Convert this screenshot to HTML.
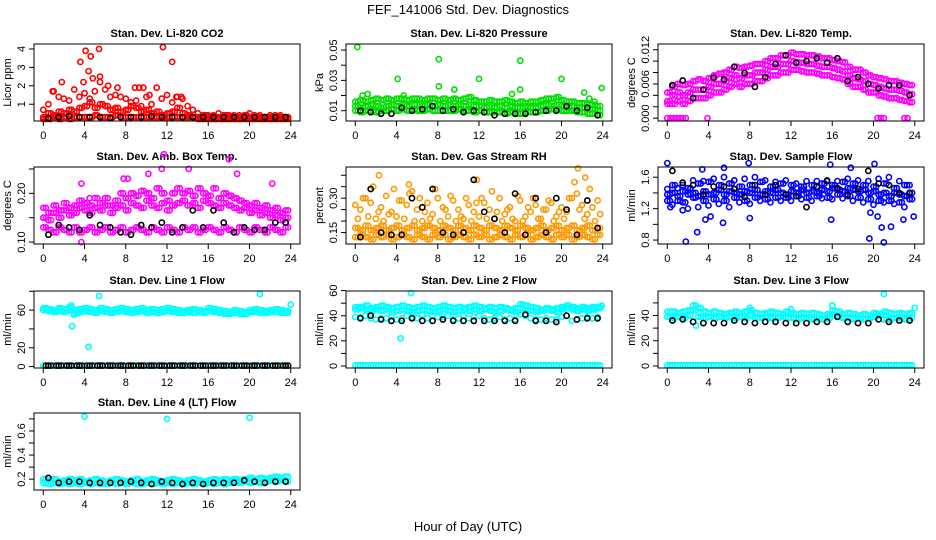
<!DOCTYPE html>
<html><head><meta charset="utf-8"><style>
html,body{margin:0;padding:0;background:#fff;}
svg{display:block;font-family:"Liberation Sans",sans-serif;}
</style></head><body>
<svg id="chart" width="936" height="540" viewBox="0 0 936 540">
<rect x="0" y="0" width="936" height="540" fill="#fff"/>
<text x="468" y="14" font-size="13" text-anchor="middle">FEF_141006  Std. Dev. Diagnostics</text>
<text x="468" y="531" font-size="13" text-anchor="middle">Hour of Day (UTC)</text>
</svg>
<script>
const T48=[0,0.5,1,1.5,2,2.5,3,3.5,4,4.5,5,5.5,6,6.5,7,7.5,8,8.5,9,9.5,10,10.5,11,11.5,12,12.5,13,13.5,14,14.5,15,15.5,16,16.5,17,17.5,18,18.5,19,19.5,20,20.5,21,21.5,22,22.5,23,23.5];
const T48b=[0.25,0.75,1.25,1.75,2.25,2.75,3.25,3.75,4.25,4.75,5.25,5.75,6.25,6.75,7.25,7.75,8.25,8.75,9.25,9.75,10.25,10.75,11.25,11.75,12.25,12.75,13.25,13.75,14.25,14.75,15.25,15.75,16.25,16.75,17.25,17.75,18.25,18.75,19.25,19.75,20.25,20.75,21.25,21.75,22.25,22.75,23.25,23.75];
const T24=[0.5,1.5,2.5,3.5,4.5,5.5,6.5,7.5,8.5,9.5,10.5,11.5,12.5,13.5,14.5,15.5,16.5,17.5,18.5,19.5,20.5,21.5,22.5,23.5];
const xTicks=[0,4,8,12,16,20,24];
// CO2
const co2A=[0.3,0.5,0.4,0.6,0.5,0.7,0.6,0.8,0.9,1.1,0.8,1.0,0.9,0.7,0.8,0.6,0.7,0.9,0.8,0.6,0.7,0.5,0.6,0.4,0.5,0.6,0.8,0.5,0.4,0.3,0.3,0.4,0.3,0.3,0.3,0.4,0.3,0.3,0.3,0.4,0.3,0.3,0.3,0.3,0.3,0.3,0.3,0.3];
const co2B=[0.7,1.0,1.7,1.4,1.3,1.2,1.8,1.4,1.6,1.3,1.7,2.2,1.8,1.4,1.5,1.4,1.3,1.1,1.2,0.9,1.4,1.0,1.9,1.3,1.5,1.1,1.4,1.3,0.9,0.7,0.5,0.4,0.4,0.4,0.5,0.4,0.4,0.4,0.4,0.4,0.5,0.4,0.4,0.3,0.4,0.4,0.4,0.3];
const co2C=[0.2,0.2,0.3,0.2,0.3,0.2,0.3,0.3,0.3,0.3,0.4,0.3,0.3,0.3,0.4,0.3,0.3,0.3,0.3,0.3,0.3,0.3,0.3,0.3,0.3,0.3,0.3,0.3,0.3,0.3,0.2,0.2,0.2,0.2,0.2,0.2,0.2,0.2,0.2,0.2,0.2,0.2,0.2,0.2,0.2,0.2,0.2,0.2];
const co2OX=[3.6,3.9,4.1,4.4,4.6,4.8,5.4,5.5,6.3,7.2,1.8,0.9,11.6,12.5,8.9,9.3,9.7,10.3,13.4,12.9];
const co2OY=[3.3,2.2,3.9,2.8,3.6,2.4,4.0,2.5,2.0,1.9,2.2,1.7,4.1,3.3,1.9,1.9,1.9,1.5,1.4,1.4];
const co2K=[0.25,0.3,0.35,0.3,0.3,0.3,0.25,0.3,0.3,0.3,0.35,0.3,0.3,0.3,0.3,0.3,0.3,0.3,0.3,0.3,0.3,0.3,0.3,0.3];
// Pressure
const prA=[0.013,0.012,0.013,0.014,0.013,0.012,0.013,0.014,0.013,0.014,0.013,0.014,0.014,0.013,0.014,0.013,0.014,0.013,0.014,0.013,0.014,0.013,0.014,0.013,0.013,0.012,0.013,0.012,0.013,0.012,0.013,0.012,0.012,0.013,0.012,0.012,0.013,0.014,0.013,0.014,0.013,0.012,0.013,0.012,0.012,0.011,0.011,0.010];
const prB=[0.016,0.017,0.016,0.017,0.018,0.017,0.018,0.017,0.018,0.018,0.017,0.018,0.018,0.017,0.018,0.018,0.017,0.018,0.017,0.018,0.017,0.018,0.019,0.017,0.016,0.016,0.017,0.016,0.016,0.017,0.016,0.015,0.016,0.015,0.016,0.016,0.017,0.018,0.018,0.019,0.017,0.016,0.016,0.015,0.015,0.014,0.014,0.013];
const prC=[0.010,0.009,0.010,0.010,0.009,0.010,0.010,0.011,0.010,0.011,0.010,0.011,0.010,0.010,0.011,0.010,0.010,0.010,0.010,0.010,0.011,0.010,0.010,0.009,0.010,0.009,0.009,0.009,0.009,0.008,0.009,0.008,0.008,0.009,0.009,0.009,0.010,0.010,0.011,0.011,0.010,0.010,0.010,0.009,0.009,0.008,0.008,0.007];
const prOX=[0.2,0.7,1.2,4.1,8.1,8.1,9.6,12,16,15.2,16,20,22.2,22.7,23.2,23.9,4.7];
const prOY=[0.052,0.020,0.021,0.031,0.044,0.026,0.024,0.031,0.043,0.021,0.024,0.031,0.022,0.018,0.016,0.025,0.020];
const prK=[0.010,0.009,0.008,0.008,0.012,0.010,0.011,0.013,0.010,0.011,0.009,0.010,0.009,0.007,0.008,0.008,0.008,0.009,0.010,0.010,0.013,0.010,0.012,0.007];
// Li-820 temp
const ltA=[0.003,0.004,0.0045,0.004,0.0045,0.005,0.005,0.005,0.0055,0.006,0.006,0.0065,0.007,0.0075,0.007,0.0075,0.0075,0.008,0.008,0.0085,0.009,0.009,0.0095,0.0095,0.01,0.0098,0.0097,0.0095,0.0095,0.0092,0.009,0.009,0.0088,0.0085,0.0082,0.0075,0.007,0.0068,0.0065,0.006,0.0058,0.0055,0.0052,0.005,0.005,0.0048,0.0045,0.0042];
const ltB=[0.0045,0.0055,0.006,0.0058,0.006,0.0065,0.0068,0.0065,0.007,0.0075,0.0078,0.008,0.0085,0.009,0.0088,0.009,0.0092,0.0095,0.0095,0.01,0.0105,0.0105,0.011,0.011,0.0115,0.0112,0.0112,0.011,0.011,0.0108,0.0105,0.0105,0.0102,0.01,0.0098,0.009,0.0085,0.0085,0.008,0.0075,0.0072,0.007,0.0068,0.0065,0.0065,0.0062,0.006,0.0058];
const ltC=[0.0025,0.0025,0.003,0.0025,0.003,0.0035,0.0035,0.0035,0.004,0.0045,0.0045,0.005,0.0055,0.006,0.0055,0.006,0.006,0.0065,0.0065,0.007,0.0075,0.0075,0.008,0.008,0.0085,0.0085,0.0082,0.008,0.008,0.0078,0.0075,0.0075,0.0072,0.007,0.0068,0.006,0.0055,0.0055,0.005,0.0045,0.0045,0.004,0.0038,0.0035,0.0035,0.0032,0.003,0.0028];
const ltOX=[0,0.3,0.6,0.9,1.2,1.5,1.8,3.9,20.4,20.7,21,23,23.3];
const ltOY=[0,0,0,0,0,0,0,0,0,0,0,0,0];
const ltK=[0.0058,0.0066,0.0035,0.005,0.0071,0.0068,0.009,0.0079,0.0055,0.0072,0.0095,0.011,0.0097,0.01,0.0105,0.0097,0.0105,0.0065,0.0072,0.006,0.0052,0.0058,0.0058,0.004];
// Amb box temp
const abA=[0.13,0.125,0.12,0.13,0.125,0.12,0.13,0.12,0.125,0.13,0.12,0.125,0.13,0.12,0.125,0.13,0.12,0.125,0.13,0.125,0.12,0.13,0.125,0.12,0.13,0.125,0.12,0.13,0.125,0.13,0.12,0.125,0.13,0.125,0.12,0.13,0.125,0.12,0.13,0.125,0.12,0.13,0.125,0.12,0.13,0.125,0.12,0.13];
const abB=[0.15,0.145,0.16,0.15,0.165,0.155,0.16,0.17,0.165,0.16,0.17,0.165,0.175,0.16,0.17,0.175,0.165,0.18,0.175,0.17,0.185,0.175,0.17,0.18,0.165,0.175,0.18,0.185,0.175,0.18,0.17,0.185,0.18,0.175,0.17,0.18,0.175,0.17,0.165,0.17,0.16,0.165,0.155,0.16,0.15,0.155,0.145,0.15];
const abC=[0.17,0.16,0.175,0.165,0.18,0.17,0.175,0.185,0.18,0.175,0.19,0.18,0.19,0.175,0.185,0.2,0.19,0.2,0.195,0.205,0.2,0.19,0.21,0.2,0.185,0.2,0.21,0.2,0.205,0.195,0.21,0.2,0.195,0.21,0.19,0.2,0.195,0.19,0.185,0.18,0.175,0.18,0.17,0.175,0.165,0.17,0.16,0.165];
const abOX=[3.7,7.8,8.2,10.2,11.5,11.7,14.1,18,18.8,22.2,4.5,3.7];
const abOY=[0.22,0.23,0.23,0.24,0.25,0.28,0.25,0.27,0.24,0.22,0.19,0.10];
const abK=[0.115,0.135,0.13,0.125,0.155,0.135,0.13,0.12,0.115,0.135,0.13,0.14,0.12,0.13,0.165,0.13,0.165,0.14,0.12,0.13,0.125,0.125,0.14,0.14];
// RH
const rhA=[0.13,0.14,0.13,0.12,0.14,0.13,0.14,0.12,0.13,0.14,0.13,0.12,0.14,0.13,0.12,0.14,0.13,0.14,0.12,0.13,0.14,0.13,0.12,0.14,0.13,0.14,0.12,0.13,0.14,0.13,0.12,0.14,0.13,0.14,0.12,0.13,0.14,0.13,0.12,0.14,0.13,0.14,0.12,0.13,0.14,0.13,0.12,0.14];
const rhB=[0.17,0.16,0.18,0.16,0.17,0.18,0.16,0.17,0.18,0.16,0.17,0.18,0.16,0.17,0.18,0.17,0.16,0.18,0.17,0.16,0.18,0.17,0.16,0.18,0.17,0.16,0.18,0.17,0.16,0.18,0.17,0.16,0.18,0.17,0.16,0.17,0.18,0.16,0.17,0.18,0.16,0.17,0.18,0.16,0.17,0.18,0.16,0.17];
const rhC=[0.27,0.25,0.3,0.28,0.21,0.26,0.31,0.24,0.22,0.29,0.27,0.33,0.25,0.2,0.28,0.23,0.3,0.26,0.22,0.29,0.25,0.21,0.27,0.24,0.22,0.28,0.25,0.21,0.3,0.23,0.26,0.2,0.29,0.22,0.24,0.27,0.21,0.25,0.28,0.22,0.26,0.24,0.3,0.32,0.27,0.23,0.26,0.29];
const rhD=[0.21,0.3,0.22,0.35,0.24,0.2,0.23,0.34,0.29,0.21,0.32,0.2,0.3,0.24,0.21,0.34,0.2,0.25,0.31,0.2,0.22,0.3,0.2,0.28,0.3,0.21,0.33,0.24,0.2,0.25,0.21,0.31,0.2,0.26,0.3,0.21,0.25,0.29,0.2,0.24,0.21,0.3,0.37,0.25,0.21,0.34,0.2,0.23];
const rhOX=[2.3,21.6,22.3,11.8,5.2];
const rhOY=[0.40,0.43,0.39,0.38,0.36];
const rhK=[0.13,0.34,0.15,0.14,0.14,0.30,0.26,0.34,0.15,0.14,0.15,0.38,0.24,0.21,0.15,0.32,0.14,0.30,0.15,0.30,0.25,0.14,0.29,0.17];
// Sample flow
const sfA=[1.38,1.4,1.36,1.42,1.38,1.4,1.36,1.42,1.38,1.4,1.44,1.38,1.42,1.4,1.38,1.42,1.4,1.44,1.38,1.42,1.4,1.44,1.4,1.38,1.42,1.4,1.44,1.4,1.42,1.4,1.44,1.42,1.46,1.44,1.42,1.46,1.44,1.42,1.44,1.4,1.42,1.38,1.4,1.36,1.4,1.38,1.36,1.4];
const sfB=[1.3,1.5,1.3,1.28,1.46,1.34,1.52,1.3,1.54,1.32,1.5,1.3,1.52,1.34,1.48,1.3,1.5,1.34,1.54,1.32,1.48,1.34,1.52,1.34,1.5,1.36,1.48,1.34,1.5,1.36,1.52,1.34,1.5,1.38,1.54,1.36,1.52,1.34,1.5,1.32,1.48,1.3,1.52,1.3,1.46,1.28,1.5,1.32];
const sfC=[1.45,1.25,1.46,1.5,1.2,1.56,1.22,1.55,1.24,1.58,1.26,1.6,1.22,1.56,1.28,1.58,1.26,1.6,1.3,1.56,1.28,1.54,1.3,1.56,1.3,1.52,1.32,1.55,1.3,1.55,1.33,1.56,1.32,1.55,1.33,1.58,1.3,1.56,1.28,1.55,1.25,1.58,1.28,1.6,1.26,1.55,1.22,1.5];
const sfOX=[0,0.3,1.5,1.8,2.9,3.4,3.7,4.2,5.4,5.5,7.9,8,15.8,15.9,17.8,19.6,19.7,20.1,20.4,20.8,21,22.9,23.9,21.7];
const sfOY=[1.78,1.22,1.18,0.78,0.9,1.7,1.06,1.1,1.02,1.72,1.78,1.08,1.76,1.06,1.72,0.82,1.15,1.77,1.1,0.96,0.77,1.06,1.1,0.97];
const sfK=[1.68,1.53,1.5,1.38,1.48,1.48,1.45,1.35,1.5,1.38,1.5,1.38,1.36,1.22,1.48,1.55,1.46,1.38,1.45,1.68,1.52,1.5,1.4,1.4];
// Line 1
const l1A=[62,61,60,62,61,63,60,61,62,61,60,62,61,60,61,62,61,60,61,62,60,61,60,61,62,61,60,59,60,61,60,59,62,61,60,59,58,60,59,58,60,61,60,59,60,61,60,59];
const l1B=[60,59,58,59,58,60,57,58,59,58,57,59,58,57,58,59,58,57,58,59,57,58,57,58,59,58,57,57,58,57,58,57,59,58,57,56,56,57,56,56,58,58,57,57,58,58,57,57];
const l1Z=[1,1,1,1,1,1,1,1,1,1,1,1,1,1,1,1,1,1,1,1,1,1,1,1,1,1,1,1,1,1,1,1,1,1,1,1,1,1,1,1,1,1,1,1,1,1,1,1];
const l1OX=[2.7,2.8,3.0,4.4,5.4,21,24,3.4];
const l1OY=[65,43,55,21,75,77,66,57];
const l1K=[1,1,1,1,1,1,1,1,1,1,1,1,1,1,1,1,1,1,1,1,1,1,1,1];
// Line 2
const l2A=[47,47,48,46,47,48,47,46,47,48,47,46,47,48,47,46,47,48,47,46,47,46,47,48,47,46,47,46,47,46,45,46,49,48,47,46,45,46,45,46,47,48,47,46,47,46,47,47];
const l2B=[45,46,45,44,45,44,45,43,44,45,44,43,44,45,44,43,44,45,44,43,44,45,44,45,44,45,44,43,44,45,44,43,46,45,44,43,44,45,44,43,45,46,45,44,45,44,45,46];
const l2L=[39,39,40,38,37,38,38,39,37,38,40,39,38,41,38,40,39,39,40,37,38,40,38,39,40,38,37,38,39,37,38,37,41,40,38,37,37,38,37,37,39,40,36,37,38,39,38,39];
const l2Z=[0.5,0.5,0.5,0.5,0.5,0.5,0.5,0.5,0.5,0.5,0.5,0.5,0.5,0.5,0.5,0.5,0.5,0.5,0.5,0.5,0.5,0.5,0.5,0.5,0.5,0.5,0.5,0.5,0.5,0.5,0.5,0.5,0.5,0.5,0.5,0.5,0.5,0.5,0.5,0.5,0.5,0.5,0.5,0.5,0.5,0.5,0.5,0.5];
const l2OX=[5.4,4.4,23.9];
const l2OY=[58,22,48];
const l2K=[38,40,37,36,36,38,36,36,37,36,36,36,36,36,36,36,41,36,36,35,40,37,38,38];
// Line 3
const l3A=[43,43,42,43,44,48,46,43,42,43,42,41,42,43,42,43,44,42,41,42,43,42,41,43,42,41,42,41,42,41,40,41,44,43,41,42,41,40,41,40,42,41,43,42,41,42,41,42];
const l3B=[39,38,39,38,40,44,39,38,39,38,39,38,39,38,39,38,40,38,38,39,38,38,39,38,38,37,38,38,37,38,37,38,40,39,38,38,37,38,37,38,39,40,37,37,38,38,37,38];
const l3Z=[0.5,0.5,0.5,0.5,0.5,0.5,0.5,0.5,0.5,0.5,0.5,0.5,0.5,0.5,0.5,0.5,0.5,0.5,0.5,0.5,0.5,0.5,0.5,0.5,0.5,0.5,0.5,0.5,0.5,0.5,0.5,0.5,0.5,0.5,0.5,0.5,0.5,0.5,0.5,0.5,0.5,0.5,0.5,0.5,0.5,0.5,0.5,0.5];
const l3OX=[21,2.8,24,16,8,12];
const l3OY=[57,32,46,48,46,45];
const l3K=[36,37,35,34,34,34,36,35,34,35,35,34,34,34,35,35,39,35,34,34,37,35,36,36];
// Line 4
const l4A=[0.2,0.19,0.2,0.18,0.19,0.2,0.19,0.2,0.18,0.19,0.2,0.19,0.18,0.19,0.2,0.19,0.18,0.19,0.2,0.18,0.19,0.2,0.19,0.18,0.19,0.2,0.19,0.18,0.19,0.2,0.19,0.18,0.19,0.2,0.19,0.2,0.19,0.2,0.19,0.2,0.21,0.2,0.21,0.2,0.21,0.22,0.21,0.22];
const l4B=[0.17,0.16,0.17,0.16,0.17,0.16,0.17,0.16,0.17,0.16,0.17,0.16,0.16,0.17,0.16,0.17,0.16,0.17,0.16,0.16,0.17,0.16,0.17,0.16,0.17,0.16,0.17,0.16,0.17,0.16,0.17,0.16,0.17,0.16,0.17,0.16,0.17,0.18,0.17,0.18,0.17,0.18,0.17,0.18,0.19,0.18,0.19,0.18];
const l4OX=[4,12,20];
const l4OY=[0.72,0.70,0.71];
const l4K=[0.21,0.17,0.18,0.18,0.17,0.17,0.17,0.17,0.18,0.17,0.16,0.18,0.17,0.16,0.17,0.16,0.17,0.17,0.17,0.19,0.18,0.17,0.18,0.18];

const NS='http://www.w3.org/2000/svg';
const svg=document.getElementById('chart');
const COLS=[34,346,658], ROWS=[44,167,291,413], W=266, H=77;
const XLIM=[-0.9,24.9];
const RED='#ff0000',GRN='#00e000',MAG='#ff00ff',ORG='#ff9900',BLU='#0000ff',CYN='#00ffff',BLK='#000000';

const panels=[
 {name:'co2',title:'Stan. Dev. Li-820 CO2',ylab:'Licor ppm',c:0,r:0,ylim:[0.09,4.27],ticks:[1,2,3,4],labels:['1','2','3','4'],
  series:[[T48,co2C,RED],[T48b,co2C,RED],[T48,co2A,RED],[T48b,co2A,RED],[T48,co2B,RED],[co2OX,co2OY,RED],[T24,co2K,BLK]]},
 {name:'pressure',title:'Stan. Dev. Li-820 Pressure',ylab:'kPa',c:1,r:0,ylim:[0.0032,0.054],ticks:[0.01,0.02,0.03,0.04,0.05],labels:['0.01','','0.03','','0.05'],
  series:[[T48,prC,GRN],[T48b,prC,GRN],[T48,prA,GRN],[T48b,prA,GRN],[T48,prB,GRN],[T48b,prB,GRN],[prOX,prOY,GRN],[T24,prK,BLK]]},
 {name:'li820-temp',title:'Stan. Dev. Li-820 Temp.',ylab:'degrees C',c:2,r:0,ylim:[-0.0005,0.013],ticks:[0,0.002,0.004,0.006,0.008,0.010,0.012],labels:['0.000','','','0.006','','','0.012'],
  series:[[T48,ltC,MAG],[T48b,ltC,MAG],[T48,ltA,MAG],[T48b,ltA,MAG],[T48,ltB,MAG],[T48b,ltB,MAG],[ltOX,ltOY,MAG],[T24,ltK,BLK]]},
 {name:'amb-box-temp',title:'Stan. Dev. Amb. Box Temp.',ylab:'degrees C',c:0,r:1,ylim:[0.096,0.254],ticks:[0.10,0.15,0.20,0.25],labels:['0.10','','0.20',''],
  series:[[T48,abA,MAG],[T48b,abA,MAG],[T48,abB,MAG],[T48b,abB,MAG],[T48,abC,MAG],[T48b,abC,MAG],[abOX,abOY,MAG],[T24,abK,BLK]]},
 {name:'gas-stream-rh',title:'Stan. Dev. Gas Stream RH',ylab:'percent',c:1,r:1,ylim:[0.10,0.436],ticks:[0.15,0.20,0.25,0.30,0.35,0.40],labels:['0.15','','','0.30','',''],
  series:[[T48,rhA,ORG],[T48b,rhA,ORG],[T48,rhB,ORG],[T48b,rhB,ORG],[T48,rhC,ORG],[T48b,rhD,ORG],[rhOX,rhOY,ORG],[T24,rhK,BLK]]},
 {name:'sample-flow',title:'Stan. Dev. Sample Flow',ylab:'ml/min',c:2,r:1,ylim:[0.75,1.73],ticks:[0.8,1.0,1.2,1.4,1.6],labels:['0.8','','1.2','','1.6'],
  series:[[T48,sfC,BLU],[T48b,sfB,BLU],[T48,sfB,BLU],[T48,sfA,BLU],[T48b,sfA,BLU],[sfOX,sfOY,BLU],[T24,sfK,BLK]]},
 {name:'line1-flow',title:'Stan. Dev. Line 1 Flow',ylab:'ml/min',c:0,r:2,ylim:[-1.5,80.3],ticks:[0,20,40,60,80],labels:['0','20','','60',''],
  series:[[T48,l1Z,CYN],[T48,l1A,CYN],[T48b,l1A,CYN],[T48,l1B,CYN],[T48b,l1B,CYN],[l1OX,l1OY,CYN],[T24,l1K,BLK],[T48b,l1Z,BLK]]},
 {name:'line2-flow',title:'Stan. Dev. Line 2 Flow',ylab:'ml/min',c:1,r:2,ylim:[-1.6,59.7],ticks:[0,10,20,30,40,50,60],labels:['0','','20','','40','','60'],
  series:[[T48,l2Z,CYN],[T48b,l2Z,CYN],[T48,l2L,CYN],[T48,l2B,CYN],[T48b,l2B,CYN],[T48,l2A,CYN],[T48b,l2A,CYN],[l2OX,l2OY,CYN],[T24,l2K,BLK]]},
 {name:'line3-flow',title:'Stan. Dev. Line 3 Flow',ylab:'ml/min',c:2,r:2,ylim:[-1.6,59.4],ticks:[0,10,20,30,40,50],labels:['0','','20','','40',''],
  series:[[T48,l3Z,CYN],[T48b,l3Z,CYN],[T48,l3B,CYN],[T48b,l3B,CYN],[T48,l3A,CYN],[T48b,l3A,CYN],[l3OX,l3OY,CYN],[T24,l3K,BLK]]},
 {name:'line4-flow',title:'Stan. Dev. Line 4 (LT) Flow',ylab:'ml/min',c:0,r:3,ylim:[0.11,0.749],ticks:[0.2,0.3,0.4,0.5,0.6,0.7],labels:['0.2','','0.4','','0.6',''],
  series:[[T48,l4B,CYN],[T48b,l4B,CYN],[T48,l4A,CYN],[T48b,l4A,CYN],[l4OX,l4OY,CYN],[T24,l4K,BLK]]}
];

function mk(tag,attrs,parent){const e=document.createElementNS(NS,tag);for(const k in attrs)e.setAttribute(k,attrs[k]);parent.appendChild(e);return e;}

panels.forEach(p=>{
  const bx=COLS[p.c], by=ROWS[p.r];
  const sx=v=>bx+(v-XLIM[0])/(XLIM[1]-XLIM[0])*W;
  const sy=v=>by+H-(v-p.ylim[0])/(p.ylim[1]-p.ylim[0])*H;
  const g=mk('g',{},svg);
  
  
  const t=mk('text',{x:bx+W/2,y:by-7,'font-size':11,'font-weight':'bold','text-anchor':'middle'},g);
  t.textContent=p.title;
  
  
  const yl=mk('text',{transform:`translate(${bx-23},${by+H/2}) rotate(-90)`,'font-size':11,'text-anchor':'middle'},g);
  yl.textContent=p.ylab;
  
  
  const pts=mk('g',{fill:'none','stroke-width':1.6},g);
  
  
  p.series.forEach(s=>{
    const xs=s[0],ys=s[1];
    for(let i=0;i<ys.length&&i<xs.length;i++){
      const c=mk('circle',{cx:sx(xs[i]).toFixed(1),cy:sy(ys[i]).toFixed(1),r:2.6,stroke:s[2]},pts);
      
      
    }
  });
  const box=mk('rect',{x:bx,y:by,width:W,height:H,fill:'none',stroke:'#000','stroke-width':1},g);
  
  
  const xa=mk('g',{},g);
  
  
  xTicks.forEach(v=>{
    mk('line',{x1:sx(v),x2:sx(v),y1:by+H,y2:by+H+5,stroke:'#000'},xa);
    const lt=mk('text',{x:sx(v),y:by+H+18,'font-size':11,'text-anchor':'middle'},xa);
    lt.textContent=String(v);
  });
  const ya=mk('g',{},g);
  
  
  p.ticks.forEach((v,i)=>{
    const y=sy(v);
    mk('line',{x1:bx-5,x2:bx,y1:y,y2:y,stroke:'#000'},ya);
    if(p.labels[i]){
      const lt=mk('text',{transform:`translate(${bx-9},${y}) rotate(-90)`,'font-size':11,'text-anchor':'middle'},ya);
      lt.textContent=p.labels[i];
    }
  });
});
</script>
</body></html>
